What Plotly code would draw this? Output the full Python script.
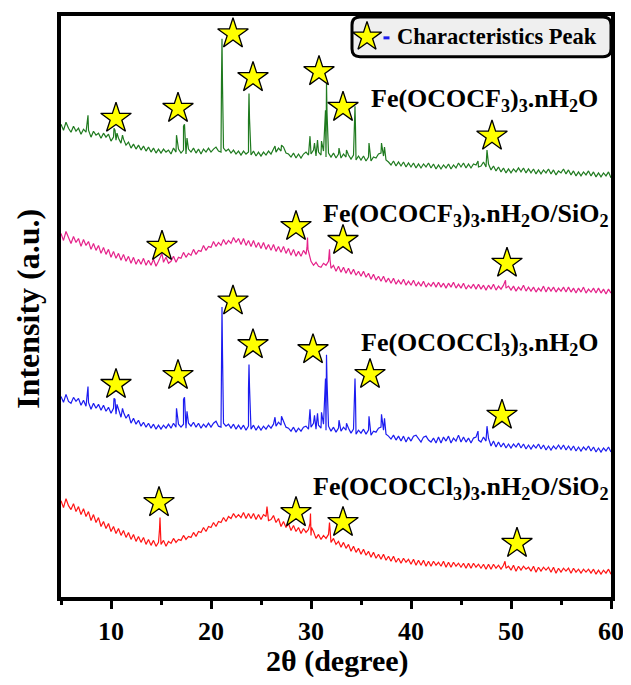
import plotly.graph_objects as go

# 2θ sampling grid (degrees), 5..60 in 0.25 steps
two_theta = [round(5 + i * 0.25, 2) for i in range(221)]

# ---- Fe(OCOCF3)3.nH2O (green) ----
green_base = [
    476, 470, 478, 472, 468, 474, 469, 472, 466, 471, 468, 470, 463, 469, 465, 467,
    462, 467, 463, 466, 459, 463, 460, 462, 457, 461, 455, 458, 452, 456, 451, 455,
    450, 454, 449, 453, 448, 452, 447, 451, 447, 451, 448, 450, 446, 452, 448, 451,
    447, 450, 446, 451, 448, 452, 447, 451, 446, 451, 448, 452, 448, 451, 453, 449,
    448, 452, 449, 451, 447, 450, 446, 449, 445, 449, 446, 448, 445, 449, 444, 448,
    444, 448, 445, 449, 446, 451, 448, 452, 449, 453, 447, 446, 443, 447, 442, 446,
    442, 446, 448, 445, 446, 450, 444, 448, 445, 449, 443, 447, 443, 447, 442, 446,
    442, 446, 443, 445, 441, 445, 440, 444, 440, 444, 439, 443, 439, 443, 442, 446,
    447, 444, 440, 438, 435, 439, 434, 438, 434, 438, 433, 437, 433, 437, 432, 436,
    432, 436, 433, 437, 432, 436, 431, 435, 431, 435, 432, 436, 431, 435, 432, 437,
    433, 437, 432, 436, 432, 436, 435, 433, 434, 438, 433, 436, 430, 434, 429, 433,
    428, 432, 427, 431, 427, 431, 428, 432, 428, 432, 427, 431, 427, 431, 426, 430,
    426, 430, 427, 431, 426, 430, 425, 429, 427, 431, 426, 430, 425, 429, 424, 428,
    424, 428, 425, 429, 424, 428, 423, 427, 423, 427, 424, 428, 422,
]
green_peak_x = [7.7, 10.3, 10.4, 10.6, 11.15, 16.55, 17.25, 17.35, 17.6,
                21.05, 21.1, 21.15, 23.75, 23.8, 23.85, 26.4, 27.05,
                29.9, 30.35, 30.65, 31.05, 31.45, 31.55, 31.6, 32.8, 33.55,
                34.35, 34.4, 34.45, 35.8, 37.05, 37.35, 46.7, 47.6]
green_peak_y = [485, 472, 470, 467, 465, 465, 474, 476, 462,
                520, 562, 515, 480, 507, 482, 454, 455,
                464, 457, 460, 459, 490, 517, 488, 452, 450,
                476, 494, 472, 457, 457, 453, 439, 450]

# ---- Fe(OCOCF3)3.nH2O/SiO2 (pink) ----
pink_base = [
    366, 359, 368, 361, 356, 363, 357, 361, 353, 360, 354, 358, 350, 356, 349, 354,
    346, 352, 345, 350, 342, 348, 341, 346, 339, 345, 338, 343, 336, 342, 335, 340,
    335, 341, 334, 339, 334, 340, 333, 338, 343, 337, 342, 336, 338, 343, 337, 342,
    341, 347, 342, 346, 344, 350, 345, 349, 348, 354, 349, 353, 352, 358, 353, 357,
    354, 360, 355, 359, 356, 362, 357, 361, 355, 361, 354, 359, 353, 359, 352, 357,
    351, 357, 350, 355, 349, 355, 348, 353, 347, 353, 346, 351, 344, 350, 343, 348,
    343, 349, 345, 348, 338, 334, 337, 333, 332, 336, 334, 338, 331, 334, 328, 333,
    327, 332, 326, 331, 325, 330, 324, 328, 323, 328, 322, 326, 320, 325, 319, 323,
    318, 323, 317, 321, 316, 321, 315, 319, 315, 320, 314, 318, 314, 319, 313, 317,
    313, 318, 312, 316, 313, 317, 312, 317, 312, 316, 311, 316, 312, 317, 311, 315,
    311, 316, 310, 314, 311, 315, 310, 315, 310, 314, 309, 314, 310, 315, 309, 313,
    310, 314, 311, 313, 309, 313, 308, 312, 309, 314, 308, 312, 308, 312, 307, 311,
    308, 313, 307, 312, 308, 312, 307, 311, 308, 312, 307, 312, 307, 311, 306, 311,
    307, 312, 306, 310, 307, 311, 306, 311, 306, 310, 305, 310, 306,
]
pink_peak_x = [15.1, 29.6, 29.65, 29.7, 31.8, 31.85, 31.9, 49.45]
pink_peak_y = [346, 352, 362, 350, 342, 350, 340, 319]

# ---- Fe(OCOCCl3)3.nH2O (blue) ----
blue_base = [
    202, 196, 204, 197, 195, 201, 197, 200, 193, 198, 192, 196, 189, 195, 190, 194,
    188, 193, 187, 191, 185, 190, 184, 188, 181, 186, 180, 184, 175, 180, 174, 178,
    172, 176, 171, 175, 170, 174, 169, 173, 169, 173, 170, 174, 170, 175, 171, 174,
    171, 174, 170, 175, 172, 176, 171, 175, 170, 174, 171, 175, 171, 175, 177, 172,
    171, 175, 172, 174, 170, 174, 169, 173, 169, 173, 168, 172, 169, 173, 168, 172,
    168, 172, 169, 173, 170, 174, 172, 176, 173, 177, 171, 170, 167, 171, 166, 170,
    167, 171, 172, 169, 171, 175, 169, 173, 170, 174, 168, 172, 167, 171, 166, 170,
    167, 171, 168, 170, 165, 169, 164, 168, 165, 169, 164, 168, 163, 167, 166, 170,
    171, 168, 164, 162, 159, 163, 158, 162, 157, 162, 156, 161, 157, 162, 163, 159,
    156, 161, 162, 158, 156, 160, 155, 161, 155, 161, 157, 162, 155, 160, 157, 163,
    156, 161, 156, 160, 155, 160, 161, 158, 156, 161, 157, 160, 152, 157, 151, 156,
    151, 155, 150, 154, 150, 154, 151, 155, 150, 154, 149, 153, 149, 153, 150, 154,
    149, 153, 148, 152, 148, 152, 149, 153, 149, 153, 148, 152, 148, 152, 147, 151,
    147, 151, 148, 152, 147, 151, 146, 150, 146, 150, 147, 151, 146,
]
blue_peak_x = [7.7, 10.3, 10.4, 10.6, 11.15, 16.55, 17.25, 17.35, 17.6,
               21.05, 21.1, 21.15, 23.75, 23.8, 23.85, 26.4, 27.05,
               29.9, 30.35, 30.65, 31.05, 31.45, 31.55, 31.6, 32.8, 33.55,
               34.35, 34.4, 34.45, 35.8, 37.05, 37.35, 46.7, 47.6]
blue_peak_y = [212, 200, 199, 194, 190, 190, 199, 201, 187,
               250, 292, 245, 210, 234, 212, 181, 182,
               189, 183, 185, 186, 220, 244, 218, 178, 175,
               203, 220, 200, 182, 184, 180, 167, 172]

# ---- Fe(OCOCCl3)3.nH2O/SiO2 (red) ----
red_base = [
    97, 90, 99, 92, 88, 94, 86, 91, 83, 89, 81, 86, 77, 83, 75, 80,
    71, 76, 69, 74, 66, 71, 64, 69, 62, 67, 60, 65, 58, 63, 56, 61,
    55, 60, 53, 58, 52, 57, 51, 55, 53, 57, 51, 56, 54, 59, 55, 58,
    57, 62, 58, 61, 60, 65, 61, 66, 65, 70, 66, 71, 70, 75, 71, 76,
    75, 80, 76, 81, 79, 84, 80, 83, 80, 85, 79, 84, 79, 84, 78, 83,
    78, 83, 81, 77, 78, 82, 75, 79, 71, 76, 70, 74, 67, 72, 66, 70,
    64, 69, 65, 68, 62, 66, 59, 63, 58, 62, 59, 63, 55, 59, 53, 56,
    50, 55, 49, 53, 46, 51, 45, 49, 43, 48, 42, 46, 40, 45, 39, 43,
    38, 43, 37, 41, 36, 41, 35, 39, 34, 39, 35, 38, 33, 38, 32, 37,
    32, 37, 31, 36, 31, 36, 32, 35, 31, 36, 30, 35, 30, 35, 31, 34,
    30, 34, 29, 34, 29, 34, 30, 33, 29, 33, 28, 33, 28, 33, 29, 32,
    28, 32, 29, 31, 27, 32, 26, 31, 27, 31, 28, 30, 26, 31, 25, 30,
    26, 30, 27, 30, 25, 30, 24, 29, 25, 29, 26, 29, 24, 29, 25, 28,
    24, 28, 25, 28, 24, 28, 23, 27, 23, 27, 24, 28, 23,
]
red_peak_x = [14.85, 14.9, 14.95, 25.6, 29.9, 29.95, 30.05, 31.85, 49.4]
red_peak_y = [68, 80, 66, 91, 74, 84, 70, 75, 36]

# ---- characteristic peak star markers ----
green_star_x = [10.5, 16.7, 22.2, 24.2, 30.8, 33.2, 48.1]
green_star_y = [482, 492, 567, 523, 529, 493, 464]
pink_star_x = [15.1, 28.5, 33.2, 49.6]
pink_star_y = [353, 373, 359, 336]
blue_star_x = [10.5, 16.7, 22.2, 24.2, 30.2, 35.9, 49.1]
blue_star_y = [214, 223, 298, 254, 249, 224, 183]
red_star_x = [14.8, 28.5, 33.2, 50.6]
red_star_y = [95, 85, 75, 54]

labels = [
    "Fe(OCOCF<sub>3</sub>)<sub>3</sub>.nH<sub>2</sub>O",
    "Fe(OCOCF<sub>3</sub>)<sub>3</sub>.nH<sub>2</sub>O/SiO<sub>2</sub>",
    "Fe(OCOCCl<sub>3</sub>)<sub>3</sub>.nH<sub>2</sub>O",
    "Fe(OCOCCl<sub>3</sub>)<sub>3</sub>.nH<sub>2</sub>O/SiO<sub>2</sub>",
]
label_x = [58.9, 60.0, 58.9, 60.0]
label_y = [500, 385, 255, 110]

colors = ["#1f7a1f", "#e5238a", "#1c1cf0", "#ff1414"]
FONT = "Liberation Serif"


def merge(bx, by, px, py):
    pts = sorted(list(zip(bx, by)) + list(zip(px, py)))
    return [p[0] for p in pts], [p[1] for p in pts]


series = [
    (green_base, green_peak_x, green_peak_y),
    (pink_base, pink_peak_x, pink_peak_y),
    (blue_base, blue_peak_x, blue_peak_y),
    (red_base, red_peak_x, red_peak_y),
]
stars = [
    (green_star_x, green_star_y),
    (pink_star_x, pink_star_y),
    (blue_star_x, blue_star_y),
    (red_star_x, red_star_y),
]

fig = go.Figure()
for (base, px, py), col in zip(series, colors):
    xs, ys = merge(two_theta, base, px, py)
    fig.add_trace(go.Scatter(x=xs, y=ys, mode="lines",
                             line=dict(color=col, width=1.2), hoverinfo="skip"))

for sx, sy in stars:
    fig.add_trace(go.Scatter(x=sx, y=sy, mode="markers",
                             marker=dict(symbol="star", size=23, color="#ffff00",
                                         line=dict(color="black", width=1.3))))

# legend box (rounded)
x0, x1, y0, y1, rx, ry = 34.1, 60.0, 544, 584, 0.8, 8
path = (f"M {x0+rx},{y0} L {x1-rx},{y0} Q {x1},{y0} {x1},{y0+ry} L {x1},{y1-ry} "
        f"Q {x1},{y1} {x1-rx},{y1} L {x0+rx},{y1} Q {x0},{y1} {x0},{y1-ry} "
        f"L {x0},{y0+ry} Q {x0},{y0} {x0+rx},{y0} Z")
fig.add_shape(type="path", path=path, xref="x", yref="y",
              fillcolor="#efefef", line=dict(color="black", width=3), layer="below")
fig.add_trace(go.Scatter(x=[35.6], y=[564], mode="markers",
                         marker=dict(symbol="star", size=22, color="#ffff00",
                                     line=dict(color="black", width=1.3))))
fig.add_shape(type="line", x0=37.25, x1=37.85, y0=563, y1=563, xref="x", yref="y",
              line=dict(color="#1c1cf0", width=3))
fig.add_annotation(x=38.4, y=564, xref="x", yref="y", text="Characteristics Peak",
                   showarrow=False, xanchor="left", yanchor="middle",
                   font=dict(family=FONT, size=22.5, color="black", weight="bold"))

for t, lx, ly in zip(labels, label_x, label_y):
    fig.add_annotation(x=lx, y=ly, xref="x", yref="y", text=t, showarrow=False,
                       xanchor="right", yanchor="middle",
                       font=dict(family=FONT, size=26, color="black", weight="bold"))

fig.add_annotation(x=-0.06, y=0.496, xref="paper", yref="paper",
                   text="Intensity (a.u.)", textangle=-90, showarrow=False,
                   xanchor="center", yanchor="middle",
                   font=dict(family=FONT, size=32, color="black", weight="bold"))
fig.add_annotation(x=0.502, y=-0.111, xref="paper", yref="paper",
                   text="2θ (degree)", showarrow=False,
                   xanchor="center", yanchor="middle",
                   font=dict(family=FONT, size=30, color="black", weight="bold"))

# page body has an 8px margin: size the figure so the plot frame lands at
# x 61..611, y 12..597 of the 631x685 window
fig.update_layout(
    width=623, height=669,
    margin=dict(l=53, r=20, t=4, b=80),
    plot_bgcolor="white", paper_bgcolor="white",
    showlegend=False,
    xaxis=dict(range=[5, 60], tickvals=[10, 20, 30, 40, 50, 60],
               ticks="outside", ticklen=8, tickwidth=3, tickcolor="black",
               minor=dict(dtick=5, tick0=5, ticks="outside", ticklen=4,
                          tickwidth=3, tickcolor="black"),
               showline=True, linewidth=4, linecolor="black", mirror=True,
               showgrid=False, zeroline=False, ticklabeloverflow="allow",
               tickfont=dict(family=FONT, size=26, color="black", weight="bold")),
    yaxis=dict(range=[0, 585], showticklabels=False, ticks="",
               showline=True, linewidth=4, linecolor="black", mirror=True,
               showgrid=False, zeroline=False),
)

fig.write_html("out.html")
